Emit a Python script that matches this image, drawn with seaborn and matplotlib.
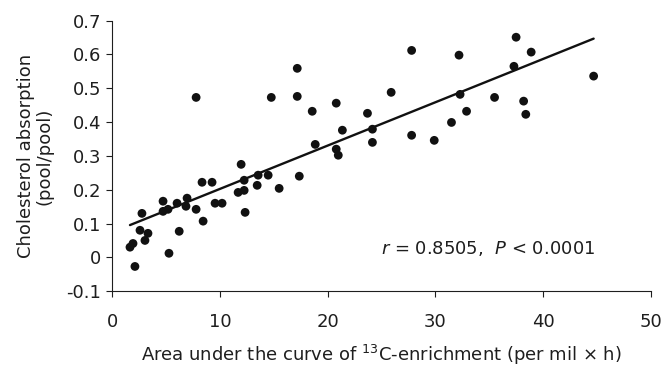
import matplotlib
matplotlib.use("Agg")
import matplotlib.pyplot as plt
import seaborn as sns
import pandas as pd
import numpy as np

auc = [1.65, 1.93, 2.11, 2.76, 2.58, 3.04, 3.32, 4.72, 4.72, 5.18, 5.27, 6.02, 6.22,
       6.95, 6.85, 7.79, 7.79, 8.34, 9.27, 8.44, 9.55, 10.2, 11.97, 11.69, 12.25, 12.25,
       12.34, 13.46, 13.55, 14.48, 14.77, 15.5, 17.18, 17.18, 17.37, 18.57, 18.85, 20.8,
       21.37, 20.8, 20.99, 23.7, 24.16, 24.16, 25.9, 27.8, 27.8, 29.9, 31.5, 32.2, 32.3,
       32.9, 35.5, 37.5, 38.9, 37.3, 38.2, 38.4, 44.7]
absorption = [0.030, 0.041, -0.027, 0.130, 0.080, 0.050, 0.071, 0.166, 0.136, 0.142, 0.012,
              0.160, 0.077, 0.175, 0.151, 0.473, 0.142, 0.222, 0.222, 0.107, 0.160, 0.160,
              0.275, 0.192, 0.198, 0.228, 0.133, 0.213, 0.243, 0.243, 0.473, 0.204, 0.559,
              0.476, 0.240, 0.432, 0.334, 0.456, 0.376, 0.320, 0.302, 0.426, 0.379, 0.340,
              0.488, 0.612, 0.361, 0.346, 0.399, 0.598, 0.482, 0.432, 0.473, 0.651, 0.607,
              0.565, 0.462, 0.423, 0.536]
x_ticks = [0, 10, 20, 30, 40, 50]
y_ticks = [-0.1, 0, 0.1, 0.2, 0.3, 0.4, 0.5, 0.6, 0.7]
y_tick_labels = ["-0.1", "0", "0.1", "0.2", "0.3", "0.4", "0.5", "0.6", "0.7"]

sns.set_style("ticks")
plt.rcParams['font.family'] = ['DejaVu Sans']
plt.rcParams['mathtext.fontset'] = 'dejavusans'

FS = 13
INK = "#1e1e1e"

df = pd.DataFrame({"auc": auc, "abs": absorption})

fig = plt.figure(figsize=(6.64, 3.69), dpi=100)
ax = fig.add_axes([0.169, 0.211, 0.811, 0.733])
sns.regplot(data=df, x="auc", y="abs", ax=ax, ci=None, truncate=True,
            scatter_kws=dict(s=40, color="#111111", edgecolor="none", alpha=1),
            line_kws=dict(color="#111111", lw=1.7))

ax.set_xlim(0, 50)
ax.set_ylim(-0.1, 0.7)
ax.set_xticks(x_ticks)
ax.set_yticks(y_ticks)
ax.set_yticklabels(y_tick_labels)
ax.tick_params(axis='both', labelsize=FS, length=4, width=0.8, color=INK,
               labelcolor=INK)
ax.tick_params(axis='y', pad=4)
ax.tick_params(axis='x', pad=12)
for s in ["top", "right"]:
    ax.spines[s].set_visible(False)
for s in ["left", "bottom"]:
    ax.spines[s].set_linewidth(0.8)
    ax.spines[s].set_color(INK)

ax.set_xlabel(r"Area under the curve of $^{13}$C-enrichment (per mil $\times$ h)",
              fontsize=FS, color=INK, labelpad=8)
ax.set_ylabel("Cholesterol absorption\n(pool/pool)", fontsize=FS, color=INK,
              labelpad=9, linespacing=1.05)
ax.text(25.0, 0.027, r"$\it{r}$ = 0.8505,  $\it{P}$ < 0.0001",
        fontsize=FS, color=INK, va="center", ha="left")

fig.savefig("out.png", dpi=100)
